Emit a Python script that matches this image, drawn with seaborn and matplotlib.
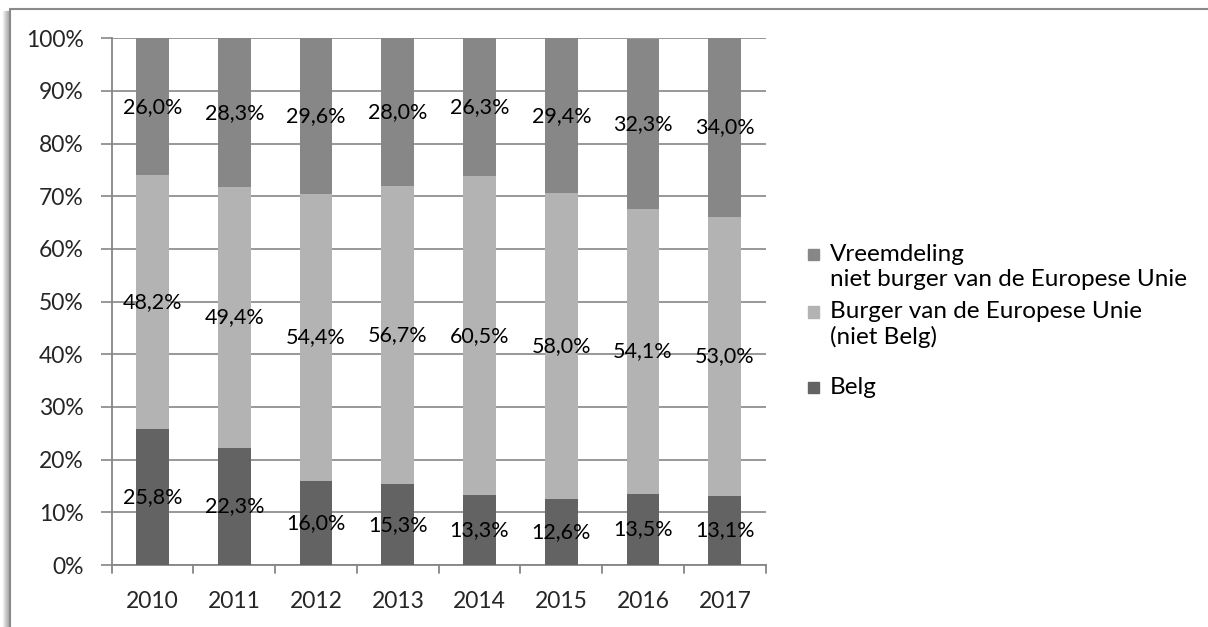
import matplotlib
matplotlib.use("Agg")
import matplotlib.pyplot as plt
import seaborn as sns
import pandas as pd
import numpy as np
from matplotlib.patches import Rectangle
from matplotlib.lines import Line2D

years = ["2010", "2011", "2012", "2013", "2014", "2015", "2016", "2017"]
belg = [25.8, 22.3, 16.0, 15.3, 13.3, 12.6, 13.5, 13.1]
eu = [48.2, 49.4, 54.4, 56.7, 60.5, 58.0, 54.1, 53.0]
non_eu = [26.0, 28.3, 29.6, 28.0, 26.3, 29.4, 32.3, 34.0]
series_names = ["Belg", "Burger van de Europese Unie\n(niet Belg)",
                "Vreemdeling\nniet burger van de Europese Unie"]
yticks = [0, 10, 20, 30, 40, 50, 60, 70, 80, 90, 100]

colors = ["#636363", "#b3b3b3", "#878787"]
FONT = "Lato"

sns.set_theme(style="white")
plt.rcParams["font.family"] = [FONT, "DejaVu Sans"]

fig = plt.figure(figsize=(12.08, 6.27), dpi=100)
ax = fig.add_axes([111.7 / 1208, 1 - 565 / 627, (765.7 - 111.7) / 1208, (565 - 38.3) / 627])

series = [belg, eu, non_eu]
bottoms = np.zeros(len(years))
for vals, col, name in zip(series, colors, series_names):
    df = pd.DataFrame({"year": years, "val": vals})
    sns.barplot(data=df, x="year", y="val", color=col, width=0.40, ax=ax,
                bottom=bottoms, zorder=3, saturation=1, edgecolor="none")
    for i, v in enumerate(vals):
        ax.text(i, bottoms[i] + v / 2, f"{v:.1f}%".replace(".", ","),
                ha="center", va="center", fontsize=15.5, color="#000000", zorder=5)
    bottoms = bottoms + np.array(vals)

ax.set_ylim(0, 100)
ax.set_xlim(-0.5, len(years) - 0.5)
ax.set_yticks(yticks)
ax.set_yticklabels([f"{t}%" for t in yticks], fontsize=16.5)
ax.set_xticks(range(len(years)))
ax.set_xticklabels(years, fontsize=16.5)
ax.set_xlabel("")
ax.set_ylabel("")
ax.grid(axis="y", color="#868686", linewidth=1.2, zorder=0)
ax.grid(axis="x", visible=False)
for s in ["top", "right"]:
    ax.spines[s].set_visible(False)
for s in ["left", "bottom"]:
    ax.spines[s].set_color("#868686")
    ax.spines[s].set_linewidth(1.3)
ax.tick_params(axis="y", length=8, width=1.2, color="#868686", pad=12, left=True)
ax.tick_params(axis="x", length=0, pad=19)
# category separator ticks
for b in np.arange(-0.5, len(years), 1.0):
    ax.plot([b, b], [0, -1.5], color="#868686", lw=1.3, clip_on=False, zorder=4)

# legend (manual to match layout)
leg_items = [(2, 254.5, ["Vreemdeling", "niet burger van de Europese Unie"]),
             (1, 312, ["Burger van de Europese Unie", "(niet Belg)"]),
             (0, 387.5, ["Belg"])]
for idx, ypix, lines in leg_items:
    fig.patches.append(Rectangle((808 / 1208, 1 - (ypix + 5.5) / 627), 11 / 1208, 11 / 627,
                                 transform=fig.transFigure, color=colors[idx]))
    for k, line in enumerate(lines):
        fig.text(830 / 1208, 1 - (ypix + 25 * k) / 627, line, fontsize=17.5,
                 ha="left", va="center", color="#000000")

# frame with shadow
for k, c in enumerate(["#f0f0f0", "#e2e2e2", "#d4d4d4", "#c8c8c8", "#bcbcbc", "#b0b0b0"]):
    x = (3 + k) / 1208
    fig.add_artist(Line2D([x, x], [0, 1 - 11 / 627], transform=fig.transFigure,
                          color=c, lw=1.0))
fig.add_artist(Line2D([9.5 / 1208, 9.5 / 1208], [0, 1 - 8.5 / 627], transform=fig.transFigure,
                      color="#8a8a8a", lw=1.5))
fig.add_artist(Line2D([9.5 / 1208, 1], [1 - 8.5 / 627, 1 - 8.5 / 627], transform=fig.transFigure,
                      color="#8a8a8a", lw=1.5))

fig.savefig("out.png", dpi=100, facecolor="white")
